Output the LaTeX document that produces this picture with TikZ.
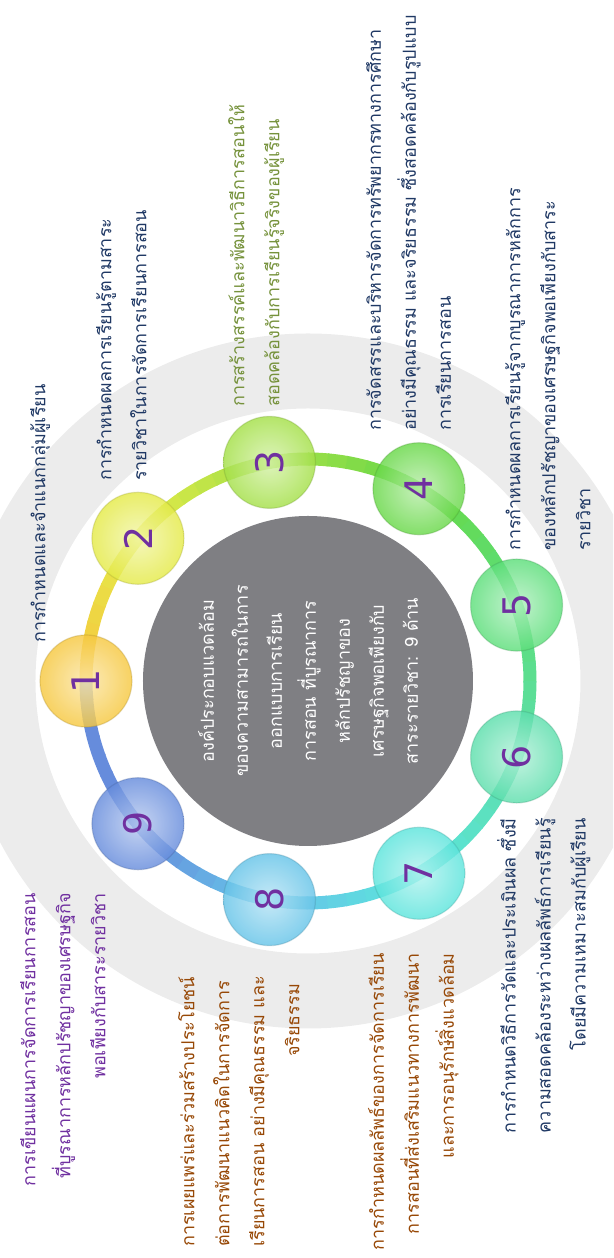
\documentclass[tikz,border=0pt]{standalone}
\usepackage{fontspec}
\newfontfamily\thaifont[Script=Thai]{Loma}
\newfontfamily\digitfont{DejaVu Sans}
\definecolor{lbnavy}{RGB}{31,56,100}
\definecolor{lbgreen}{RGB}{118,146,60}
\definecolor{lbbrown}{RGB}{151,72,6}
\definecolor{lbpurple}{RGB}{112,48,160}
\definecolor{bandgray}{RGB}{236,236,236}
\definecolor{hubgray}{RGB}{127,127,131}
\definecolor{c1}{RGB}{246,200,64}
\definecolor{c2}{RGB}{228,234,72}
\definecolor{c3}{RGB}{164,224,72}
\definecolor{c4}{RGB}{104,216,72}
\definecolor{c5}{RGB}{92,222,122}
\definecolor{c6}{RGB}{92,222,172}
\definecolor{c7}{RGB}{92,228,220}
\definecolor{c8}{RGB}{102,196,232}
\definecolor{c9}{RGB}{102,140,220}
\usetikzlibrary{calc}

\begin{document}
\begin{tikzpicture}[x=1pt,y=1pt,
  lbl/.style={inner sep=0pt, font=\thaifont\fontsize{18}{35}\selectfont},
  ball/.style={circle, minimum size=92pt, inner sep=0pt, draw=#1!70!black, draw opacity=0.3,
    line width=1.2pt, inner color=#1!45!white, outer color=#1, fill opacity=0.82,
    text opacity=1, text=lbpurple, font=\digitfont\fontsize{38}{38}\selectfont},
  hub/.style={circle, minimum size=330pt, inner sep=0pt, fill=hubgray, text=white,
    align=center, font=\thaifont\fontsize{18}{34}\selectfont}]
\begin{scope}[rotate=90, transform shape]
  \useasboundingbox (0,0) rectangle (1258,613);
  \clip (0,0) rectangle (1258,613);
  \coordinate (ctr) at (577,305);
  % light band behind the wheel
  \draw[bandgray, line width=75pt] (ctr) circle[radius=310];
  % coloured rim, blended from ball to ball
  \foreach \i/\j in {1/2,2/3,3/4,4/5,5/6,6/7,7/8,8/9,9/9}
    \foreach \k in {0,...,7}{
      \pgfmathtruncatemacro\mixp{\k*100/7}
      \draw[line width=13pt, color=c\j!\mixp!c\i]
        ($(ctr)+(130-40*\i-5*\k:222)$) arc[start angle=130-40*\i-5*\k, delta angle=-5.4, radius=222];
    }
  % hub
  \node[hub] (hub) at (ctr) {องค์ประกอบแวดล้อม\\ของความสามารถในการ\\ออกแบบการเรียน\\การสอน ที่บูรณาการ\\หลักปรัชญาของ\\เศรษฐกิจพอเพียงกับ\\สาระรายวิชา: 9 ด้าน};
  % numbered balls
  \foreach \i in {1,...,9}
    \node[ball=c\i] (ball\i) at ($(ctr)+(130-40*\i:222)$) {\i};
  % labels, right side
  \node[lbl, anchor=west, text=lbnavy] (lab1) at (615,573) {การกำหนดและจำแนกกลุ่มผู้เรียน};
  \node[lbl, anchor=north west, align=left, text=lbnavy] (lab2) at (777,517)
    {การกำหนดผลการเรียนรู้ตามสาระ\\รายวิชาในการจัดการเรียนการสอน};
  \node[lbl, anchor=north west, align=left, text=lbgreen] (lab3) at (851,385)
    {การสร้างสรรค์และพัฒนาวิธีการสอนให้\\สอดคล้องกับการเรียนรู้จริงของผู้เรียน};
  \node[lbl, anchor=north west, align=left, text=lbnavy] (lab4) at (827,247)
    {การจัดสรรและบริหารจัดการทรัพยากรทางการศึกษา\\อย่างมีคุณธรรม และจริยธรรม ซึ่งสอดคล้องกับรูปแบบ\\การเรียนการสอน};
  \node[lbl, anchor=north west, align=left, text=lbnavy] (lab5) at (707,108)
    {การกำหนดผลการเรียนรู้จากบูรณาการหลักการ\\ของหลักปรัชญาของเศรษฐกิจพอเพียงกับสาระ\\รายวิชา};
  % labels, left side
  \node[lbl, anchor=north east, align=right, text=lbnavy] (lab6) at (440,116)
    {การกำหนดวิธีการวัดและประเมินผล ซึ่งมี\\ความสอดคล้องระหว่างผลลัพธ์การเรียนรู้\\โดยมีความเหมาะสมกับผู้เรียน};
  \node[lbl, anchor=north east, align=right, text=lbbrown] (lab7) at (305,245)
    {การกำหนดผลลัพธ์ของการจัดการเรียน\\การสอนที่ส่งเสริมแนวทางการพัฒนา\\และการอนุรักษ์สิ่งแวดล้อม};
  \node[lbl, anchor=north west, align=left, text=lbbrown] (lab8) at (11,435)
    {การเผยแพร่และร่วมสร้างประโยชน์\\ต่อการพัฒนาแนวคิดในการจัดการ\\เรียนการสอน อย่างมีคุณธรรม และ\\\hspace*{190pt}จริยธรรม};
  \node[lbl, anchor=north east, align=right, text=lbpurple] (lab9) at (365,593)
    {การเขียนแผนการจัดการเรียนการสอน\\ที่บูรณาการหลักปรัชญาของเศรษฐกิจ\\พอเพียงกับสาระรายวิชา};
\end{scope}
\end{tikzpicture}
\end{document}
